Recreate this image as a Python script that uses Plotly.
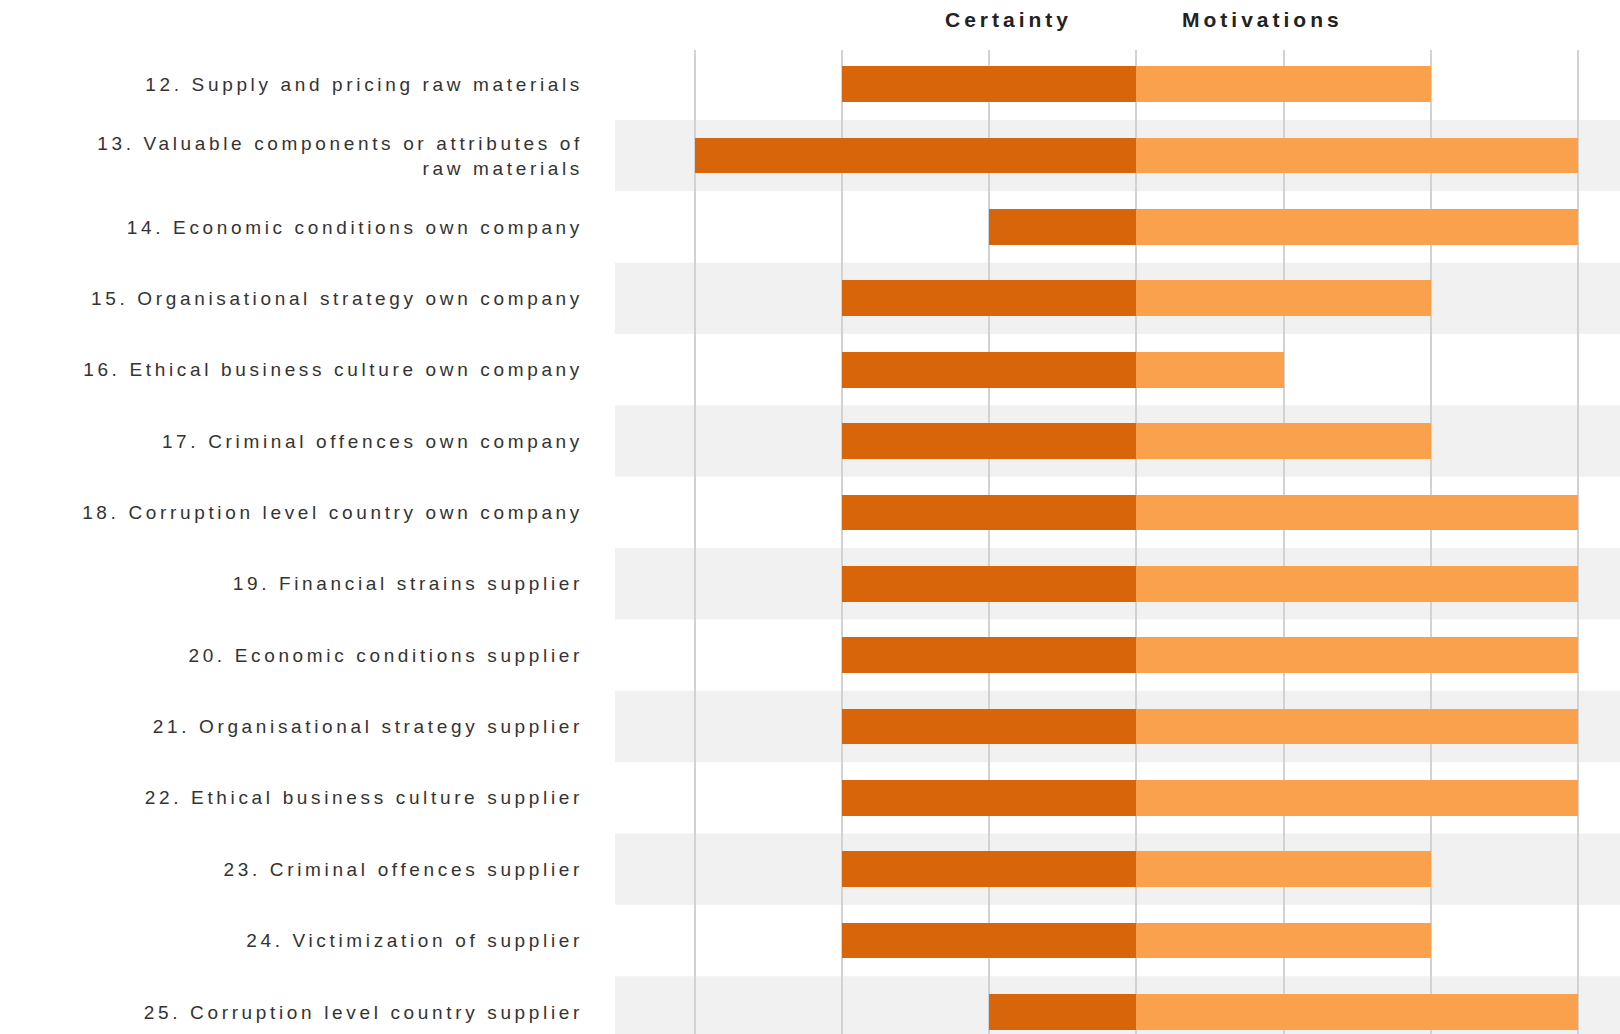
import plotly.graph_objects as go

categories = [
    "12. Supply and pricing raw materials",
    "13. Valuable components or attributes of<br>raw materials",
    "14. Economic conditions own company",
    "15. Organisational strategy own company",
    "16. Ethical business culture own company",
    "17. Criminal offences own company",
    "18. Corruption level country own company",
    "19. Financial strains supplier",
    "20. Economic conditions supplier",
    "21. Organisational strategy supplier",
    "22. Ethical business culture supplier",
    "23. Criminal offences supplier",
    "24. Victimization of supplier",
    "25. Corruption level country supplier",
]
certainty = [2, 3, 1, 2, 2, 2, 2, 2, 2, 2, 2, 2, 2, 1]
motivations = [2, 3, 3, 2, 1, 2, 3, 3, 3, 3, 3, 2, 2, 3]
grid_ticks = [-3, -2, -1, 0, 1, 2, 3]

DARK = "#D9650A"
LIGHT = "#F9A14D"
SPACING = "letter-spacing:3.65px"


def spaced(label, sp=SPACING):
    return "<br>".join(f"<span style='{sp}'>{ln}</span>" for ln in label.split("<br>"))


fig = go.Figure()
fig.add_trace(go.Bar(
    y=categories, x=[-v for v in certainty], orientation="h",
    marker=dict(color=DARK, line=dict(width=0)), width=0.5, name="Certainty",
))
fig.add_trace(go.Bar(
    y=categories, x=motivations, orientation="h",
    marker=dict(color=LIGHT, line=dict(width=0)), width=0.5, name="Motivations",
))

shapes = []
for i in range(len(categories)):
    if i % 2 == 1:
        shapes.append(dict(type="rect", xref="paper", x0=0, x1=1, yref="y",
                           y0=i - 0.5, y1=i + 0.5, fillcolor="#F1F1F1",
                           line=dict(width=0), layer="below"))

fig.update_layout(
    width=1620, height=1034,
    margin=dict(l=615, r=0, t=50, b=0),
    barmode="relative",
    bargap=0,
    showlegend=False,
    plot_bgcolor="white", paper_bgcolor="white",
    shapes=shapes,
    font=dict(family="Liberation Sans, Arial, sans-serif", color="#333333"),
    xaxis=dict(range=[-3.546, 3.288], tickvals=grid_ticks, showticklabels=False,
               showgrid=True, gridcolor="#D2D2D2", gridwidth=2, zeroline=False,
               showline=False, fixedrange=True),
    yaxis=dict(type="category", categoryorder="array", categoryarray=categories,
               tickvals=categories, ticktext=[spaced(c) for c in categories],
               range=[13.31, -0.48], showgrid=False, zeroline=False, showline=False,
               ticks="", ticklabelstandoff=31,
               tickfont=dict(size=19, color="#333333",
                             family="Liberation Sans, Arial, sans-serif")),
    annotations=[
        dict(text=spaced("Certainty", "letter-spacing:4px"), x=-0.87, xref="x",
             y=1.0305, yref="paper", yanchor="middle", xanchor="center",
             showarrow=False, font=dict(size=21, color="#222222", weight="bold")),
        dict(text=spaced("Motivations", "letter-spacing:4px"), x=0.86, xref="x",
             y=1.0305, yref="paper", yanchor="middle", xanchor="center",
             showarrow=False, font=dict(size=21, color="#222222", weight="bold")),
    ],
)

fig.write_html("out.html")
